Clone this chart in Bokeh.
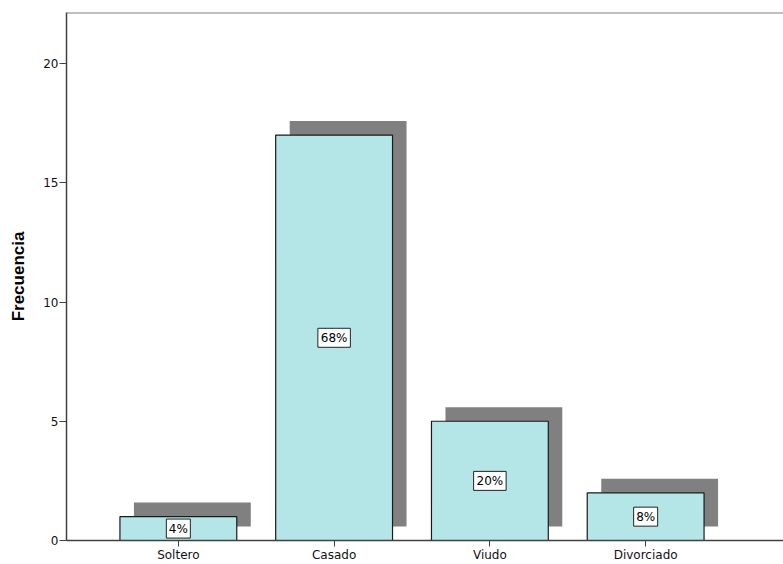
from bokeh.plotting import figure
from bokeh.models import ColumnDataSource, Range1d, FixedTicker, Span
from bokeh.core.properties import value
from bokeh.embed import file_html
from bokeh.resources import INLINE

categories = ["Soltero", "Casado", "Viudo", "Divorciado"]
counts = [1, 17, 5, 2]
percent_labels = ["4%", "68%", "20%", "8%"]

bar_w = 0.75
sx = 0.09   # shadow offset in x (data units)
sy = 0.59   # shadow offset in y (data units)

xs = list(range(len(categories)))
src = ColumnDataSource(dict(
    x=xs,
    top=counts,
    sx=[v + sx for v in xs],
    sbottom=[sy] * len(counts),
    stop=[c + sy for c in counts],
    mid=[c / 2 for c in counts],
    lab=percent_labels,
    boxw=[7 + 8.5 * len(s) for s in percent_labels],
))

p = figure(width=783, height=564, output_backend="svg", toolbar_location=None,
           x_range=Range1d(-0.718, 3.885), y_range=Range1d(0, 22.14),
           min_border_left=66, min_border_top=12, min_border_right=0, min_border_bottom=24)

p.vbar(x="sx", bottom="sbottom", top="stop", width=bar_w, source=src,
       fill_color="#808080", line_color=None)
p.vbar(x="x", bottom=0, top="top", width=bar_w, source=src,
       fill_color="#B4E6E7", line_color="#1a1a1a", line_width=1.2)

p.rect(x="x", y="mid", width="boxw", height=19, width_units="screen", height_units="screen",
       source=src, fill_color="white", line_color="#222222", line_width=1)
p.text(x="x", y="mid", text="lab", source=src, text_align="center", text_baseline="middle",
       text_font=value("DejaVu Sans"), text_font_size="12px", text_color="black")

p.xgrid.visible = False
p.ygrid.visible = False
p.outline_line_color = None
p.add_layout(Span(location=p.y_range.end, dimension="width",
                  line_color="#808080", line_width=2))
p.background_fill_color = "white"
p.border_fill_color = "white"

p.xaxis.ticker = FixedTicker(ticks=xs)
p.xaxis.major_label_overrides = {i: c for i, c in zip(xs, categories)}
p.yaxis.ticker = FixedTicker(ticks=[0, 5, 10, 15, 20])
for ax in (p.xaxis, p.yaxis):
    ax.minor_tick_line_color = None
    ax.major_tick_out = 7
    ax.major_tick_in = 0
    ax.axis_line_color = "#404040"
    ax.axis_line_width = 1.5
    ax.major_tick_line_color = "#404040"
    ax.major_label_text_font = "DejaVu Sans"
    ax.major_label_text_font_size = "12px"
    ax.major_label_text_color = "#111111"
    ax.major_label_standoff = 1
p.xaxis.major_tick_out = 6

p.yaxis.axis_label = "Frecuencia"
p.yaxis.axis_label_text_font = "Liberation Sans"
p.yaxis.axis_label_text_font_style = "bold"
p.yaxis.axis_label_text_font_size = "17px"
p.yaxis.axis_label_text_color = "black"
p.yaxis.axis_label_standoff = 12

open("out.html", "w").write(file_html(p, INLINE))
